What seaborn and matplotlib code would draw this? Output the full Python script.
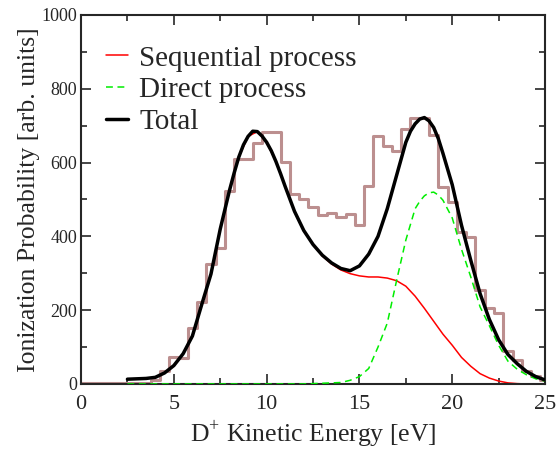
import numpy as np
import pandas as pd
import matplotlib
matplotlib.use("Agg")
import matplotlib.pyplot as plt
import seaborn as sns
from matplotlib.ticker import MultipleLocator

# histogram (bin centres every 0.5 eV)
hist_energy = np.arange(0, 25.01, 0.5)
hist_counts = [3, 3, 3, 3, 3, 3, 3, 3, 11, 36,
               72, 70, 151, 223, 326, 369, 523, 609, 609, 653,
               684, 684, 601, 515, 501, 480, 458, 463, 453, 461,
               431, 537, 673, 646, 631, 690, 722, 722, 675, 533,
               493, 413, 397, 255, 205, 192, 89, 65, 35, 22,
               11]

# total curve (finer near the peaks)
total_energy = [2.5, 3.0, 3.5, 4.0, 4.5, 5.0, 5.5, 6.0, 6.5, 7.0,
                7.5, 8.0, 8.25, 8.5, 8.75, 9.0, 9.25, 9.5, 9.75, 10.0,
                10.25, 10.5, 10.75, 11.0, 11.5, 12.0, 12.5, 13.0, 13.5, 14.0,
                14.5, 15.0, 15.5, 16.0, 16.5, 17.0, 17.5, 17.75, 18.0, 18.25,
                18.5, 18.75, 19.0, 19.25, 19.5, 20.0, 20.5, 21.0, 21.5, 22.0,
                22.5, 23.0, 23.5, 24.0, 24.5, 25.0]
total = [13, 14, 15, 18, 30, 50, 82, 130, 215, 298,
         420, 525, 572, 615, 648, 671, 685, 684, 672, 655,
         632, 603, 570, 535, 468, 416, 378, 349, 328, 313,
         307, 320, 352, 400, 475, 565, 655, 685, 705, 718,
         722, 713, 695, 665, 625, 540, 430, 335, 245, 175,
         120, 80, 55, 34, 20, 11]

# component curves, read every 0.5 eV from 2.5 to 25
curve_energy = np.arange(2.5, 25.01, 0.5)
sequential = [13, 14, 15, 18, 30, 50, 82, 130, 215, 298,
              420, 525, 615, 671, 684, 655, 603, 535, 468, 416,
              377, 347, 325, 309, 299, 293, 290, 290, 287, 280,
              265, 238, 205, 170, 135, 105, 72, 48, 28, 16,
              8, 3, 1, 0, 0, 0]
direct_energy = [2.5, 3.0, 3.5, 4.0, 4.5, 5.0, 5.5, 6.0, 6.5, 7.0,
                 7.5, 8.0, 8.5, 9.0, 9.5, 10.0, 10.5, 11.0, 11.5, 12.0,
                 12.5, 13.0, 13.5, 14.0, 14.5, 15.0, 15.5, 16.0, 16.5, 17.0,
                 17.5, 18.0, 18.25, 18.5, 18.75, 19.0, 19.25, 19.5, 20.0, 20.5,
                 21.0, 21.5, 22.0, 22.5, 23.0, 23.5, 24.0, 24.5, 25.0]
direct = [0, 0, 0, 0, 0, 0, 0, 0, 0, 0,
          0, 0, 0, 0, 0, 0, 0, 0, 0, 0,
          1, 2, 3, 4, 10, 20, 42, 100, 165, 280,
          390, 475, 495, 510, 518, 520, 512, 498, 450, 365,
          290, 209, 158, 105, 62, 40, 25, 14, 8]

sns.set_style("ticks")
plt.rcParams["font.family"] = ["Liberation Serif", "DejaVu Serif"]
plt.rcParams["mathtext.fontset"] = "custom"
plt.rcParams["mathtext.rm"] = "Liberation Serif"

fig = plt.figure(figsize=(5.59, 4.5), dpi=100)
ax = fig.add_axes([0.145, 0.1467, 0.83, 0.82])

sns.lineplot(x=hist_energy, y=hist_counts, ax=ax, color="#bc8f8f",
             linewidth=2.2, drawstyle="steps-mid", zorder=1)
sns.lineplot(x=curve_energy, y=sequential, ax=ax, color="#ff0000",
             linewidth=1.1, label="Sequential process", zorder=2)
sns.lineplot(x=direct_energy, y=direct, ax=ax, color="#00ee00",
             linewidth=1.1, label="Direct process", zorder=3)
ax.lines[-1].set_dashes([4.5, 3])
sns.lineplot(x=total_energy, y=total, ax=ax, color="black",
             linewidth=2.5, label="Total", zorder=4)
for ln in ax.lines:
    ln.set_solid_joinstyle("round")

ax.set_xlim(0, 25)
ax.set_ylim(0, 1000)
ax.xaxis.set_major_locator(MultipleLocator(5))
ax.xaxis.set_minor_locator(MultipleLocator(2.5))
ax.yaxis.set_major_locator(MultipleLocator(200))
ax.yaxis.set_minor_locator(MultipleLocator(100))
ax.tick_params(which="both", direction="in", top=True, right=True, width=1.2)
ax.tick_params(which="major", length=7)
ax.tick_params(which="minor", length=4)
ax.tick_params(axis="x", labelsize=16, pad=8)
ax.tick_params(axis="y", labelsize=13, pad=3)
for s in ax.spines.values():
    s.set_linewidth(1.5)

ax.set_xlabel(r"D$^{+}$ Kinetic Energy [eV]", fontsize=18.5, labelpad=3)
ax.set_ylabel("Ionization Probability [arb. units]", fontsize=18.5, labelpad=1)

ax.legend(loc="upper left", bbox_to_anchor=(0.028, 0.95), frameon=False,
          fontsize=21, handlelength=0.75, handletextpad=0.4, labelspacing=0.18,
          borderaxespad=0)

fig.savefig("out.png", dpi=100)
